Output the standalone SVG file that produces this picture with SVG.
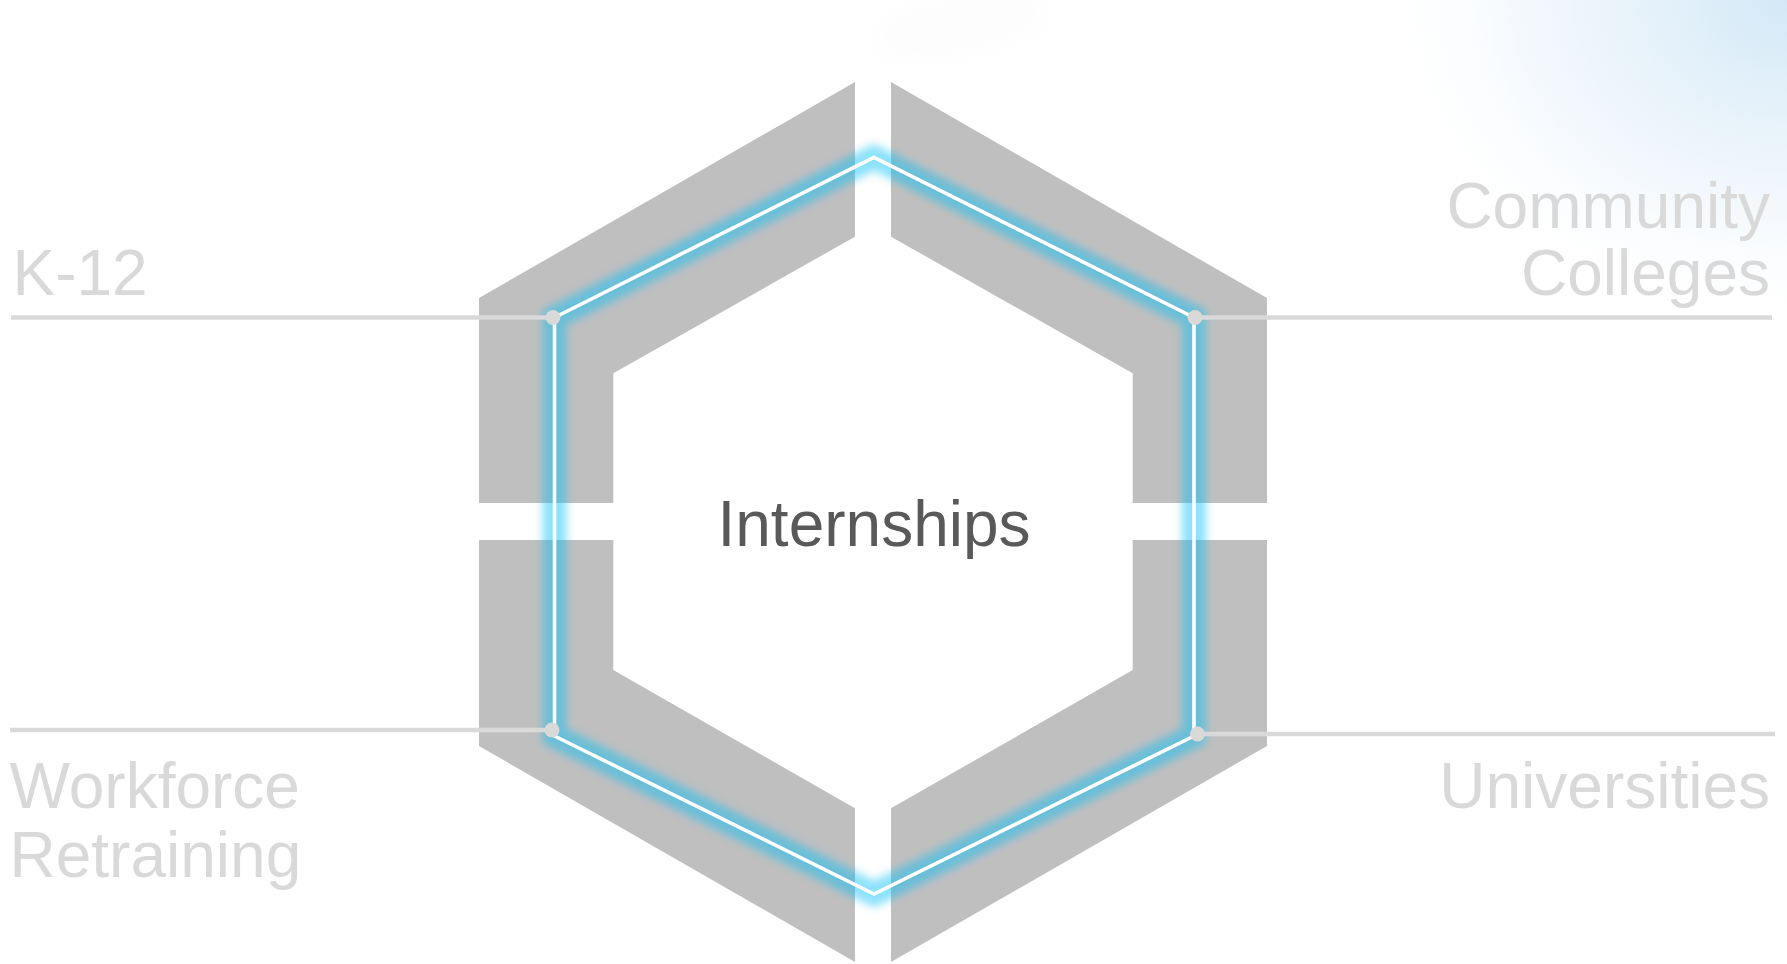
<svg xmlns="http://www.w3.org/2000/svg" width="1787" height="964" viewBox="0 0 1787 964">
  <defs>
    <radialGradient id="sky" cx="1787" cy="0" r="420" gradientUnits="userSpaceOnUse" gradientTransform="translate(1787 0) scale(1 0.8) rotate(-15) translate(-1787 0)">
      <stop offset="0" stop-color="#d3e8f6"/>
      <stop offset="0.3" stop-color="#e4f1fa"/>
      <stop offset="0.65" stop-color="#f5f9fd"/>
      <stop offset="1" stop-color="#ffffff" stop-opacity="0"/>
    </radialGradient>
    <filter id="blur" x="-10%" y="-10%" width="120%" height="120%">
      <feGaussianBlur stdDeviation="4.5"/>
    </filter>
    <filter id="soft" x="-50%" y="-50%" width="200%" height="200%">
      <feGaussianBlur stdDeviation="18"/>
    </filter>
  </defs>
  <style>
    .piece { fill: #bfbfbf; }
    .glow { fill: none; stroke: #00bef8; stroke-width: 24; stroke-opacity: 0.45; stroke-linejoin: miter; }
    .core { fill: none; stroke: #ffffff; stroke-width: 3.6; stroke-linejoin: miter; }
    .leader { stroke: #d9d9d9; stroke-width: 4.5; fill: none; }
    .dot { fill: #d9d9d9; }
    .label { font-family: "Liberation Sans", Arial, sans-serif; font-size: 64px; fill: #d9d9d9; }
    .center { font-family: "Liberation Sans", Arial, sans-serif; font-size: 64px; fill: #595959; }
  </style>

  <rect x="0" y="0" width="1787" height="964" fill="#ffffff"/>
  <rect x="1200" y="0" width="587" height="420" fill="url(#sky)"/>
  <ellipse cx="960" cy="25" rx="90" ry="22" fill="#f2f2f2" opacity="0.25" transform="rotate(-12 960 25)" filter="url(#soft)"/>

  <g id="hexagon">
    <g id="piece-upper-left">
      <polygon class="piece" points="855,82 479,298 479,503 613.3,503 613.3,373.3 855,236.7"/>
    </g>
    <g id="piece-upper-right">
      <polygon class="piece" points="891,82 1267,298 1267,503 1132.7,503 1132.7,373.3 891,236.7"/>
    </g>
    <g id="piece-lower-left">
      <polygon class="piece" points="479,540 613.3,540 613.3,670 855,808.3 855,962 479,746"/>
    </g>
    <g id="piece-lower-right">
      <polygon class="piece" points="1267,540 1132.7,540 1132.7,670 891,808.3 891,962 1267,746"/>
    </g>
    <g id="glow-ring">
      <polygon class="glow" filter="url(#blur)" points="874,157.3 1194,317.5 1194,736 874,894 554.5,736 554.5,317.5"/>
      <polygon class="core" points="874,157.3 1194,317.5 1194,736 874,894 554.5,736 554.5,317.5"/>
    </g>
  </g>

  <g id="connectors">
    <line class="leader" x1="11" y1="317.5" x2="553" y2="317.5"/>
    <line class="leader" x1="1195" y1="317.5" x2="1772" y2="317.5"/>
    <line class="leader" x1="10" y1="730" x2="552" y2="730"/>
    <line class="leader" x1="1197" y1="734" x2="1775" y2="734"/>
    <circle class="dot" cx="553" cy="317.5" r="7.5"/>
    <circle class="dot" cx="1195" cy="317.5" r="7.5"/>
    <circle class="dot" cx="552" cy="730" r="7.5"/>
    <circle class="dot" cx="1197.5" cy="734" r="7.5"/>
  </g>

  <g id="node-internships">
    <text class="center" x="874" y="546" text-anchor="middle">Internships</text>
  </g>
  <g id="node-k12">
    <text class="label" x="12.5" y="295">K-12</text>
  </g>
  <g id="node-community-colleges">
    <text class="label" x="1770" y="228" text-anchor="end">Community</text>
    <text class="label" x="1770" y="295" text-anchor="end">Colleges</text>
  </g>
  <g id="node-workforce-retraining">
    <text class="label" x="9.5" y="808">Workforce</text>
    <text class="label" x="9.5" y="877">Retraining</text>
  </g>
  <g id="node-universities">
    <text class="label" x="1770" y="808" text-anchor="end">Universities</text>
  </g>
</svg>
